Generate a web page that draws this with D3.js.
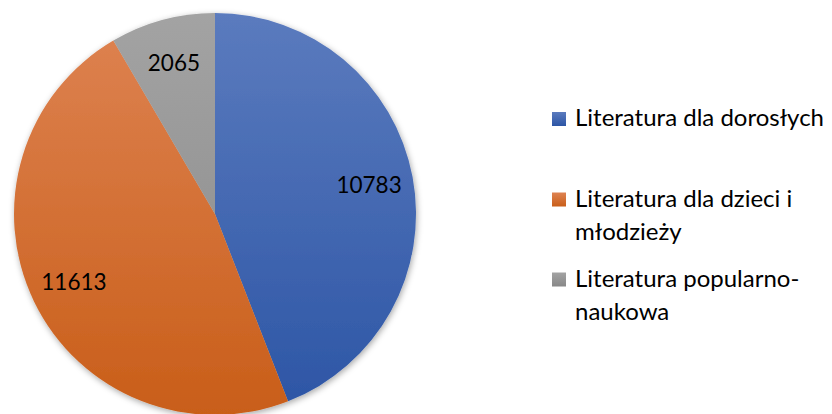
<!DOCTYPE html>
<html>
<head>
<meta charset="utf-8">
<script src="https://cdn.jsdelivr.net/npm/d3@7"></script>
<style>
  html, body { margin: 0; padding: 0; background: #fff; }
  svg { display: block; font-family: Lato, "Open Sans", sans-serif; }
</style>
</head>
<body>
<div class="container"></div>
<script>
// data
var categories = ["Literatura dla dorosłych", "Literatura dla dzieci i młodzieży", "Literatura popularno-naukowa"];
var values = [10783, 11613, 2065];
// legend text split into lines, as in the original
var legendLines = [["Literatura dla dorosłych"], ["Literatura dla dzieci i", "młodzieży"], ["Literatura popularno-", "naukowa"]];

// colours: [top of gradient, bottom of gradient]
var colors = [["#5b7bbe", "#2c55a5"], ["#de8352", "#c95e19"], ["#a3a3a3", "#888888"]];

var width = 832, height = 414;
var cx = 215, cy = 214, radius = 201;

var svg = d3.select(".container").append("svg")
  .attr("width", width).attr("height", height);

var defs = svg.append("defs");

// a gradient per slice, running top to bottom across the whole pie
colors.forEach(function(c, i) {
  var g = defs.append("linearGradient")
    .attr("id", "grad" + i)
    .attr("gradientUnits", "userSpaceOnUse")
    .attr("x1", 0).attr("y1", -radius)
    .attr("x2", 0).attr("y2", radius);
  g.append("stop").attr("offset", "0%").attr("stop-color", c[0]);
  g.append("stop").attr("offset", "100%").attr("stop-color", c[1]);

  // small one for the legend squares
  var s = defs.append("linearGradient")
    .attr("id", "legGrad" + i)
    .attr("x1", 0).attr("y1", 0).attr("x2", 0).attr("y2", 1);
  s.append("stop").attr("offset", "0%").attr("stop-color", c[0]);
  s.append("stop").attr("offset", "100%").attr("stop-color", c[1]);
});

// soft shadow round the pie
var shadow = defs.append("filter").attr("id", "shadow")
  .attr("x", "-10%").attr("y", "-10%").attr("width", "120%").attr("height", "120%");
shadow.append("feDropShadow")
  .attr("dx", 1).attr("dy", 2)
  .attr("stdDeviation", 3)
  .attr("flood-color", "#000").attr("flood-opacity", 0.35);

var pie = d3.pie().sort(null).value(function(d) { return d; });
var arcs = pie(values);

var arc = d3.arc().innerRadius(0).outerRadius(radius);
var labelArc = d3.arc().innerRadius(radius * 0.78).outerRadius(radius * 0.78);

var g = svg.append("g").attr("transform", "translate(" + cx + "," + cy + ")");

g.append("g").attr("filter", "url(#shadow)")
  .selectAll("path")
  .data(arcs)
  .enter().append("path")
  .attr("d", arc)
  .attr("fill", function(d, i) { return "url(#grad" + i + ")"; });

g.selectAll("text.val")
  .data(arcs)
  .enter().append("text")
  .attr("class", "val")
  .attr("transform", function(d) { return "translate(" + labelArc.centroid(d) + ")"; })
  .attr("text-anchor", "middle")
  .attr("dy", "0.36em")
  .attr("font-size", 22.5)
  .attr("fill", "#000")
  .text(function(d) { return d.value; });

// legend
var legendX = 552, square = 14, lineH = 33;
var legendBaselines = [126, 206.5, 286.5];

var legend = svg.append("g").attr("class", "legend");
var item = legend.selectAll("g")
  .data(categories)
  .enter().append("g");

item.append("rect")
  .attr("x", legendX)
  .attr("y", function(d, i) { return legendBaselines[i] - square; })
  .attr("width", square).attr("height", square)
  .attr("fill", function(d, i) { return "url(#legGrad" + i + ")"; });

item.append("text")
  .attr("font-size", 24)
  .attr("fill", "#000")
  .selectAll("tspan")
  .data(function(d, i) { return legendLines[i].map(function(t) { return {t: t, i: i}; }); })
  .enter().append("tspan")
  .attr("x", legendX + 23)
  .attr("y", function(d, j) { return legendBaselines[d.i] + j * lineH; })
  .text(function(d) { return d.t; });
</script>
</body>
</html>
